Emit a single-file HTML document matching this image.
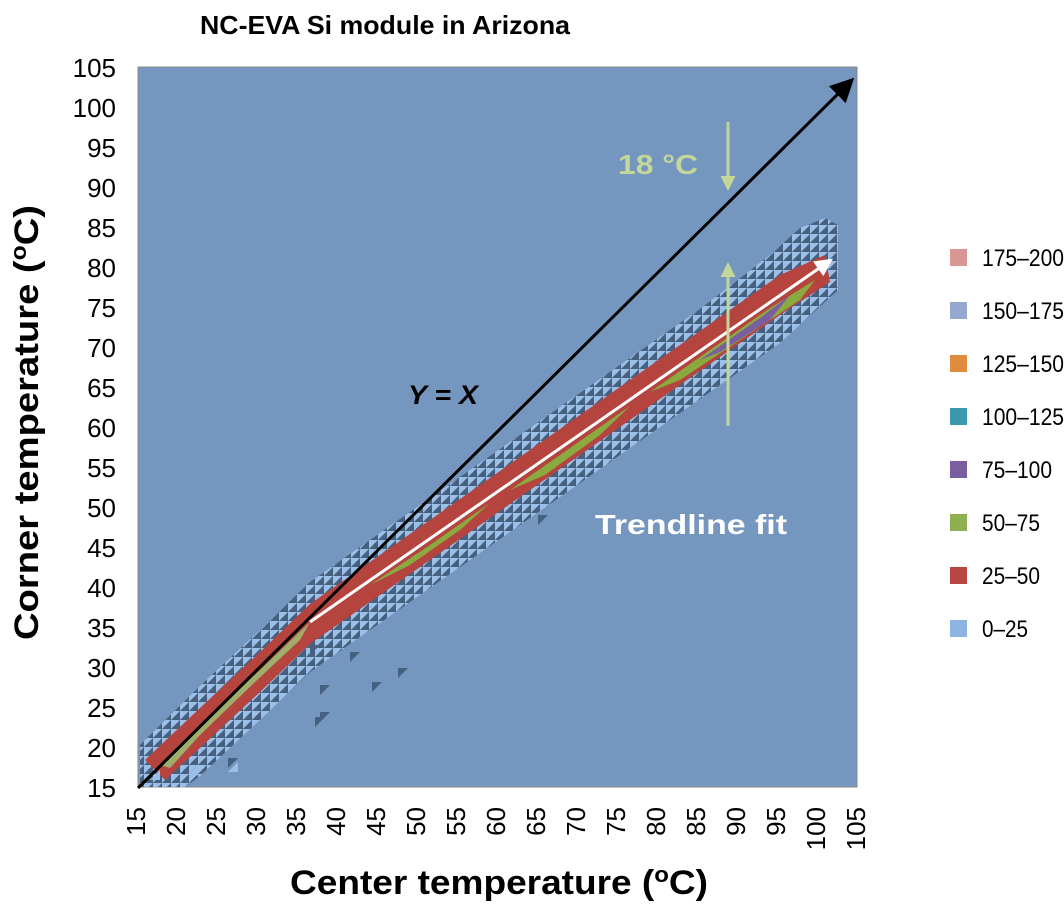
<!DOCTYPE html>
<html><head><meta charset="utf-8"><style>
html,body{margin:0;padding:0;background:#fff;}
svg{display:block;font-family:"Liberation Sans",sans-serif;}
</style></head><body>
<svg width="1064" height="905" viewBox="0 0 1064 905" xmlns="http://www.w3.org/2000/svg">
<defs>
<pattern id="tex" width="9" height="9" patternUnits="userSpaceOnUse">
<rect width="9" height="9" fill="#6f8db2"/>
<polygon points="0,0 9,0 0,9" fill="#9cbfe8"/>
<polygon points="9,0 9,9 0,9" fill="#46607f"/>
</pattern>
<marker id="ab" markerWidth="8" markerHeight="8" refX="6" refY="4" orient="auto" markerUnits="strokeWidth"><path d="M0,0 L8,4 L0,8 z" fill="#000"/></marker>
<marker id="aw" markerWidth="6" markerHeight="6" refX="4" refY="3" orient="auto" markerUnits="strokeWidth"><path d="M0,0 L6,3 L0,6 z" fill="#fff"/></marker>
<marker id="ag" markerWidth="5" markerHeight="5" refX="4" refY="2.5" orient="auto" markerUnits="strokeWidth"><path d="M0,0 L5,2.5 L0,5 z" fill="#c4d79b"/></marker>
</defs>
<text x="385" y="34" font-size="26" font-weight="bold" text-anchor="middle" textLength="370" lengthAdjust="spacingAndGlyphs">NC-EVA Si module in Arizona</text>
<rect x="138" y="67" width="719" height="720" fill="#7596be" stroke="#8a8a8a" stroke-width="1"/>
<!-- textured outer band -->
<polygon points="140,745 200,686 260,630 310,582 400,519 500,449 600,379 700,309 770,255 800,228 825,218 838,225 838,290 780,343 700,399 600,469 500,539 400,609 310,672 260,720 200,776 185,787 140,787" fill="url(#tex)"/>
<!-- red band -->
<polygon points="145,760 200,708 260,652 310,604 400,541 500,471 600,401 700,331 780,275 825,255 830,282 780,315 700,371 600,441 500,511 400,581 310,644 260,692 200,748 165,780" fill="#b5443f"/>
<!-- green/tan inner -->
<polygon points="160,765 200,726 260,670 310,622 300,640 255,682 200,735 170,768" fill="#9fae6a"/>
<polygon points="370,585 430,545 490,503 460,530 410,565" fill="#8aaa40"/>
<polygon points="510,490 570,448 630,406 600,435 545,475" fill="#8aaa40"/>
<polygon points="650,392 710,350 770,308 815,280 800,300 740,340 680,380" fill="#8aaa40"/>
<polygon points="700,360 760,318 790,295 770,320 720,352" fill="#7a5fa0"/>
<!-- stray cells -->
<g fill="#46607f">
<polygon points="350,652 360,652 350,662"/><polygon points="320,685 330,685 320,695"/><polygon points="320,712 330,712 320,722"/>
<polygon points="372,682 382,682 372,692"/><polygon points="398,668 408,668 398,678"/><polygon points="315,717 325,717 315,727"/>
<polygon points="228,758 238,758 228,768"/><polygon points="538,515 548,515 538,525"/><polygon points="310,645 320,645 310,655"/>
</g>
<g fill="#9cbfe8"><polygon points="188,775 198,765 198,775"/><polygon points="228,772 238,762 238,772"/><polygon points="150,780 160,770 160,780"/></g>
<!-- Y=X -->
<line x1="138" y1="788" x2="850" y2="82" stroke="#000" stroke-width="3" marker-end="url(#ab)"/>
<!-- trendline -->
<line x1="310" y1="622" x2="828" y2="262" stroke="#fff" stroke-width="3" marker-end="url(#aw)"/>
<!-- green arrows -->
<line x1="728" y1="122" x2="728" y2="188" stroke="#c4d79b" stroke-width="3" marker-end="url(#ag)"/>
<line x1="728" y1="426" x2="728" y2="265" stroke="#c4d79b" stroke-width="3" marker-end="url(#ag)"/>
<text x="618" y="174" font-size="28" font-weight="bold" fill="#c4d79b" textLength="80" lengthAdjust="spacingAndGlyphs">18 °C</text>
<text x="408" y="404" font-size="27" font-weight="bold" font-style="italic" textLength="70" lengthAdjust="spacingAndGlyphs">Y = X</text>
<text x="595" y="534" font-size="28" font-weight="bold" fill="#fff" textLength="192" lengthAdjust="spacingAndGlyphs">Trendline fit</text>
<!-- y ticks -->
<g font-size="26" text-anchor="end">
<text x="116" y="77">105</text><text x="116" y="117">100</text><text x="116" y="157">95</text><text x="116" y="197">90</text>
<text x="116" y="237">85</text><text x="116" y="277">80</text><text x="116" y="317">75</text><text x="116" y="357">70</text>
<text x="116" y="397">65</text><text x="116" y="437">60</text><text x="116" y="477">55</text><text x="116" y="517">50</text>
<text x="116" y="557">45</text><text x="116" y="597">40</text><text x="116" y="637">35</text><text x="116" y="677">30</text>
<text x="116" y="717">25</text><text x="116" y="757">20</text><text x="116" y="797">15</text>
</g>
<!-- x ticks -->
<g font-size="26" text-anchor="end">
<text transform="translate(145,807) rotate(-90)">15</text><text transform="translate(185,807) rotate(-90)">20</text>
<text transform="translate(225,807) rotate(-90)">25</text><text transform="translate(265,807) rotate(-90)">30</text>
<text transform="translate(305,807) rotate(-90)">35</text><text transform="translate(345,807) rotate(-90)">40</text>
<text transform="translate(385,807) rotate(-90)">45</text><text transform="translate(425,807) rotate(-90)">50</text>
<text transform="translate(465,807) rotate(-90)">55</text><text transform="translate(505,807) rotate(-90)">60</text>
<text transform="translate(545,807) rotate(-90)">65</text><text transform="translate(585,807) rotate(-90)">70</text>
<text transform="translate(625,807) rotate(-90)">75</text><text transform="translate(665,807) rotate(-90)">80</text>
<text transform="translate(705,807) rotate(-90)">85</text><text transform="translate(745,807) rotate(-90)">90</text>
<text transform="translate(785,807) rotate(-90)">95</text><text transform="translate(825,807) rotate(-90)">100</text>
<text transform="translate(865,807) rotate(-90)">105</text>
</g>
<text x="290" y="894" font-size="34" font-weight="bold" textLength="418" lengthAdjust="spacingAndGlyphs">Center temperature (<tspan dy="-12" font-size="22">o</tspan><tspan dy="12">C)</tspan></text>
<text transform="translate(38,640) rotate(-90)" font-size="34" font-weight="bold" textLength="435" lengthAdjust="spacingAndGlyphs">Corner temperature (<tspan dy="-12" font-size="22">o</tspan><tspan dy="12">C)</tspan></text>
<!-- legend -->
<g font-size="24">
<rect x="950" y="249" width="17" height="17" fill="#d99694"/><text x="982" y="266" textLength="82" lengthAdjust="spacingAndGlyphs">175–200</text>
<rect x="950" y="302" width="17" height="17" fill="#95a9d0"/><text x="982" y="319" textLength="82" lengthAdjust="spacingAndGlyphs">150–175</text>
<rect x="950" y="355" width="17" height="17" fill="#e08b3e"/><text x="982" y="372" textLength="82" lengthAdjust="spacingAndGlyphs">125–150</text>
<rect x="950" y="408" width="17" height="17" fill="#3b99ae"/><text x="982" y="425" textLength="82" lengthAdjust="spacingAndGlyphs">100–125</text>
<rect x="950" y="461" width="17" height="17" fill="#7a5fa0"/><text x="982" y="478" textLength="70" lengthAdjust="spacingAndGlyphs">75–100</text>
<rect x="950" y="514" width="17" height="17" fill="#8fb050"/><text x="982" y="531" textLength="58" lengthAdjust="spacingAndGlyphs">50–75</text>
<rect x="950" y="567" width="17" height="17" fill="#b94543"/><text x="982" y="584" textLength="58" lengthAdjust="spacingAndGlyphs">25–50</text>
<rect x="950" y="620" width="17" height="17" fill="#8db4e2"/><text x="982" y="637" textLength="46" lengthAdjust="spacingAndGlyphs">0–25</text>
</g>
</svg>
</body></html>
